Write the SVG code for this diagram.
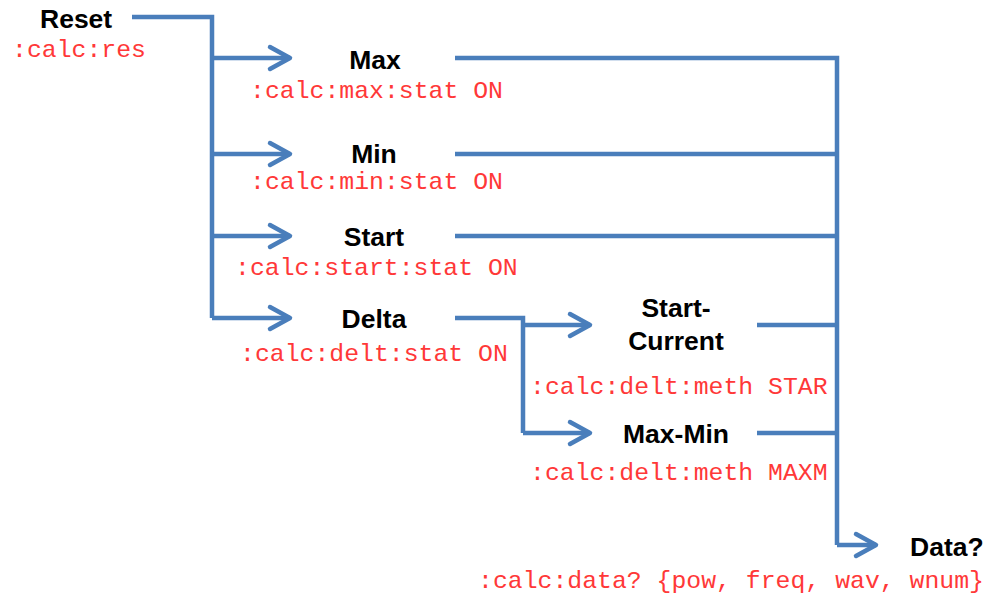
<svg xmlns="http://www.w3.org/2000/svg" width="989" height="594" viewBox="0 0 989 594">
  <style>
    .lbl { font-family: "Liberation Sans", Arial, sans-serif; font-weight: bold; font-size: 26.5px; fill: #000; }
    .cmd { font-family: "Liberation Mono", "Courier New", monospace; font-size: 24.8px; fill: #ff3838; }
    .wire { fill: none; stroke: #4a7ebb; stroke-width: 4.5; stroke-linejoin: miter; }
  </style>
  <defs>
    <marker id="arrow" markerUnits="userSpaceOnUse" markerWidth="30" markerHeight="30" viewBox="-26 -15 30 30" refX="-1" refY="0" orient="auto">
      <path d="M-21,-11 L-1,0 L-21,11" fill="none" stroke="#4a7ebb" stroke-width="4.5" stroke-linecap="round" stroke-linejoin="round"/>
    </marker>
  </defs>

  <g id="connectors">
    <!-- Reset bus feeding the four calculations -->
    <path class="wire" d="M132,17 H212 V318"/>
    <path class="wire" d="M212,58 H290" marker-end="url(#arrow)"/>
    <path class="wire" d="M212,154 H290" marker-end="url(#arrow)"/>
    <path class="wire" d="M212,236 H290" marker-end="url(#arrow)"/>
    <path class="wire" d="M212,318 H290" marker-end="url(#arrow)"/>
    <!-- Delta method split -->
    <path class="wire" d="M455,318 H523 V433"/>
    <path class="wire" d="M523,325 H590" marker-end="url(#arrow)"/>
    <path class="wire" d="M523,433 H590" marker-end="url(#arrow)"/>
    <!-- Collector bus into data query -->
    <path class="wire" d="M455,58 H837 V545"/>
    <path class="wire" d="M455,154 H837"/>
    <path class="wire" d="M455,236 H837"/>
    <path class="wire" d="M757,325 H837"/>
    <path class="wire" d="M757,433 H837"/>
    <path class="wire" d="M837,545 H876" marker-end="url(#arrow)"/>
  </g>

  <g id="reset">
    <text class="lbl" x="40" y="28">Reset</text>
    <text class="cmd" x="12" y="57">:calc:res</text>
  </g>
  <g id="max">
    <text class="lbl" x="375" y="69" text-anchor="middle">Max</text>
    <text class="cmd" x="250" y="98">:calc:max:stat ON</text>
  </g>
  <g id="min">
    <text class="lbl" x="374" y="163" text-anchor="middle">Min</text>
    <text class="cmd" x="250" y="189">:calc:min:stat ON</text>
  </g>
  <g id="start">
    <text class="lbl" x="374" y="246" text-anchor="middle">Start</text>
    <text class="cmd" x="235" y="275">:calc:start:stat ON</text>
  </g>
  <g id="delta">
    <text class="lbl" x="374" y="328" text-anchor="middle">Delta</text>
    <text class="cmd" x="240" y="361">:calc:delt:stat ON</text>
  </g>
  <g id="start-current">
    <text class="lbl" x="676" y="317" text-anchor="middle">Start-</text>
    <text class="lbl" x="676" y="350" text-anchor="middle">Current</text>
    <text class="cmd" x="530" y="394">:calc:delt:meth STAR</text>
  </g>
  <g id="max-min">
    <text class="lbl" x="676" y="443" text-anchor="middle">Max-Min</text>
    <text class="cmd" x="530" y="480">:calc:delt:meth MAXM</text>
  </g>
  <g id="data">
    <text class="lbl" x="910" y="556">Data?</text>
    <text class="cmd" x="478" y="588">:calc:data? {pow, freq, wav, wnum}</text>
  </g>
</svg>
